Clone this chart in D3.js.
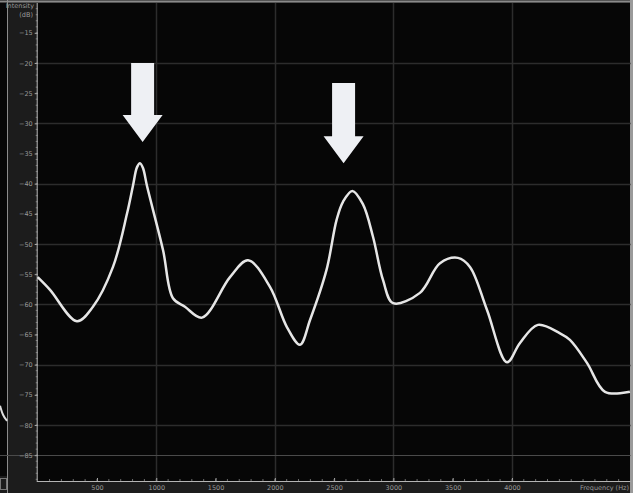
<!DOCTYPE html>
<html>
<head>
<meta charset="utf-8">
<script src="https://cdn.jsdelivr.net/npm/d3@7"></script>
<style>
  html, body { margin: 0; padding: 0; background: #000; }
  svg { display: block; }
  .tick text { font-family: "DejaVu Sans", sans-serif; }
</style>
</head>
<body>
<svg id="chart" width="633" height="493"></svg>
<script>
// spectrum (Hz, dB)
var freqs = [0, 104, 331, 466, 635, 753, 804, 837, 863, 888, 922, 1057, 1141, 1242, 1386, 1622, 1774, 1959, 2103, 2212, 2297, 2436, 2521, 2575, 2654, 2743, 2828, 2913, 2997, 3224, 3393, 3545, 3646, 3789, 3958, 4068, 4219, 4405, 4489, 4633, 4785, 4995];
var intensity = [-55.5, -57.6, -62.8, -60.4, -53.8, -45.0, -40.3, -37.3, -36.6, -37.4, -40.4, -51.0, -59.0, -60.4, -62.2, -55.5, -52.7, -57.1, -63.8, -66.7, -62.6, -54.3, -46.0, -43.0, -41.2, -43.4, -48.8, -56.0, -59.8, -58.1, -53.2, -52.3, -53.8, -60.9, -69.6, -66.4, -63.4, -64.8, -65.9, -69.7, -74.5, -74.5];

var yTickValues = [-15, -20, -25, -30, -35, -40, -45, -50, -55, -60, -65, -70, -75, -80, -85];
var xTickValues = [500, 1000, 1500, 2000, 2500, 3000, 3500, 4000];
var yGridValues = [-20, -30, -40, -50, -60, -70, -80];
var xGridValues = [1000, 2000, 3000, 4000];

// arrow annotations: frequency, top of shaft (dB), arrow tip (dB)
var arrowFreqs = [885, 2580];
var arrowTops = [-20, -23.3];
var arrowTips = [-33.1, -36.6];

// bit of the neighbouring panel trace at the left edge (px in that panel, dB)
var leftTraceX = [0, 3, 7];
var leftTraceY = [-76.8, -78.5, -79.3];

var svg = d3.select("#chart");
var W = 633, H = 493;
var plot = {left: 37.7, right: 630.5, top: 3, bottom: 481};

var x = d3.scaleLinear().domain([0, 5000]).range([plot.left, plot.right]);
var y = d3.scaleLinear().domain([-20, -80]).range([63, 425]);

// backgrounds
svg.append("rect").attr("width", W).attr("height", H).attr("fill", "#1c1c1c");
svg.append("rect").attr("x", 0).attr("y", 0).attr("width", 7).attr("height", 476).attr("fill", "#070707");
svg.append("rect").attr("x", plot.left).attr("y", plot.top)
    .attr("width", plot.right - plot.left).attr("height", plot.bottom - plot.top)
    .attr("fill", "#060606");

// outer frame
svg.append("line").attr("x1", 0).attr("x2", W).attr("y1", 1.5).attr("y2", 1.5)
    .attr("stroke", "#8a8a8a").attr("stroke-width", 2);
svg.append("line").attr("x1", 631.5).attr("x2", 631.5).attr("y1", 0).attr("y2", H)
    .attr("stroke", "#9a9a9a").attr("stroke-width", 3);
svg.append("line").attr("x1", 7.5).attr("x2", 7.5).attr("y1", 0).attr("y2", H)
    .attr("stroke", "#8c8c8c").attr("stroke-width", 1);
svg.append("rect").attr("x", 0.5).attr("y", 478.5).attr("width", 6).attr("height", 11)
    .attr("fill", "none").attr("stroke", "#777");

// grid
var grid = svg.append("g");
grid.selectAll(".hg").data(yGridValues).enter().append("line")
    .attr("x1", plot.left).attr("x2", plot.right)
    .attr("y1", function(d) { return Math.round(y(d)) + 0.5; })
    .attr("y2", function(d) { return Math.round(y(d)) + 0.5; })
    .attr("stroke", "#2c2c2c").attr("stroke-width", 1.5);
grid.selectAll(".vg").data(xGridValues).enter().append("line")
    .attr("x1", function(d) { return Math.round(x(d)) + 0.5; })
    .attr("x2", function(d) { return Math.round(x(d)) + 0.5; })
    .attr("y1", plot.top).attr("y2", plot.bottom)
    .attr("stroke", "#2c2c2c").attr("stroke-width", 1.5);

// the brighter reference line near the bottom that also crosses the side panels
svg.append("line").attr("x1", 0).attr("x2", plot.right)
    .attr("y1", Math.round(y(-85)) + 0.5).attr("y2", Math.round(y(-85)) + 0.5)
    .attr("stroke", "#4a4a4a").attr("stroke-width", 1.2);

// y axis
var yAxis = d3.axisLeft(y).tickValues(yTickValues).tickSize(3).tickFormat(d3.format("d"));
var gy = svg.append("g").attr("transform", "translate(" + plot.left + ",0)").call(yAxis);
gy.select(".domain").remove();
gy.selectAll(".tick line").attr("stroke", "#aaa");
gy.selectAll(".tick text").attr("fill", "#9a9a9a").attr("font-size", 6.5).attr("x", -5);

var minorY = d3.range(-89, -10, 1);
svg.append("g").selectAll("line").data(minorY).enter().append("line")
    .attr("x1", plot.left - 2).attr("x2", plot.left)
    .attr("y1", function(d) { return y(d); }).attr("y2", function(d) { return y(d); })
    .attr("stroke", "#888").attr("stroke-width", 0.8);

svg.append("line").attr("x1", plot.left - 0.5).attr("x2", plot.left - 0.5)
    .attr("y1", plot.top).attr("y2", plot.bottom)
    .attr("stroke", "#b5b5b5").attr("stroke-width", 1);

svg.append("text").attr("x", 34).attr("y", 8).attr("text-anchor", "end")
    .attr("font-family", "DejaVu Sans, sans-serif").attr("font-size", 6.5).attr("fill", "#9a9a9a")
    .text("Intensity");
svg.append("text").attr("x", 33).attr("y", 17).attr("text-anchor", "end")
    .attr("font-family", "DejaVu Sans, sans-serif").attr("font-size", 6.5).attr("fill", "#9a9a9a")
    .text("(dB)");

// x axis
var xAxis = d3.axisBottom(x).tickValues(xTickValues).tickSize(3).tickFormat(d3.format("d"));
var gx = svg.append("g").attr("transform", "translate(0," + plot.bottom + ")").call(xAxis);
gx.select(".domain").remove();
gx.selectAll(".tick line").attr("stroke", "#aaa").attr("y1", -3).attr("y2", 0);
gx.selectAll(".tick text").attr("fill", "#9a9a9a").attr("font-size", 6.5).attr("y", 4);

var minorX = d3.range(100, 5000, 100);
svg.append("g").selectAll("line").data(minorX).enter().append("line")
    .attr("x1", function(d) { return x(d); }).attr("x2", function(d) { return x(d); })
    .attr("y1", plot.bottom - 2).attr("y2", plot.bottom)
    .attr("stroke", "#888").attr("stroke-width", 0.8);

svg.append("line").attr("x1", plot.left - 1).attr("x2", plot.right)
    .attr("y1", plot.bottom + 0.5).attr("y2", plot.bottom + 0.5)
    .attr("stroke", "#b5b5b5").attr("stroke-width", 1);

svg.append("text").attr("x", 629).attr("y", 490).attr("text-anchor", "end")
    .attr("font-family", "DejaVu Sans, sans-serif").attr("font-size", 6.5).attr("fill", "#9a9a9a")
    .text("Frequency (Hz)");

// neighbouring panel trace
var leftLine = d3.line()
    .x(function(d, i) { return leftTraceX[i]; })
    .y(function(d) { return y(d); })
    .curve(d3.curveBasis);
svg.append("path").datum(leftTraceY).attr("d", leftLine)
    .attr("fill", "none").attr("stroke", "#ddd").attr("stroke-width", 2);

// spectrum
var line = d3.line()
    .x(function(d, i) { return x(freqs[i]); })
    .y(function(d) { return y(d); })
    .curve(d3.curveCatmullRom.alpha(0.5));

svg.append("path").datum(intensity).attr("d", line)
    .attr("fill", "none").attr("stroke", "#e6e6e6").attr("stroke-width", 2.5)
    .attr("stroke-linejoin", "round");

// arrows
var shaftHalf = 11.5, headHalf = 20, headLen = 27;
svg.append("g").selectAll("path").data(arrowFreqs).enter().append("path")
    .attr("d", function(d, i) {
        var cx = x(d), top = y(arrowTops[i]), tip = y(arrowTips[i]);
        var hb = tip - headLen;
        return "M" + (cx - shaftHalf) + "," + top +
               "L" + (cx + shaftHalf) + "," + top +
               "L" + (cx + shaftHalf) + "," + hb +
               "L" + (cx + headHalf) + "," + hb +
               "L" + cx + "," + tip +
               "L" + (cx - headHalf) + "," + hb +
               "L" + (cx - shaftHalf) + "," + hb + "Z";
    })
    .attr("fill", "#eef0f4");
</script>
</body>
</html>
